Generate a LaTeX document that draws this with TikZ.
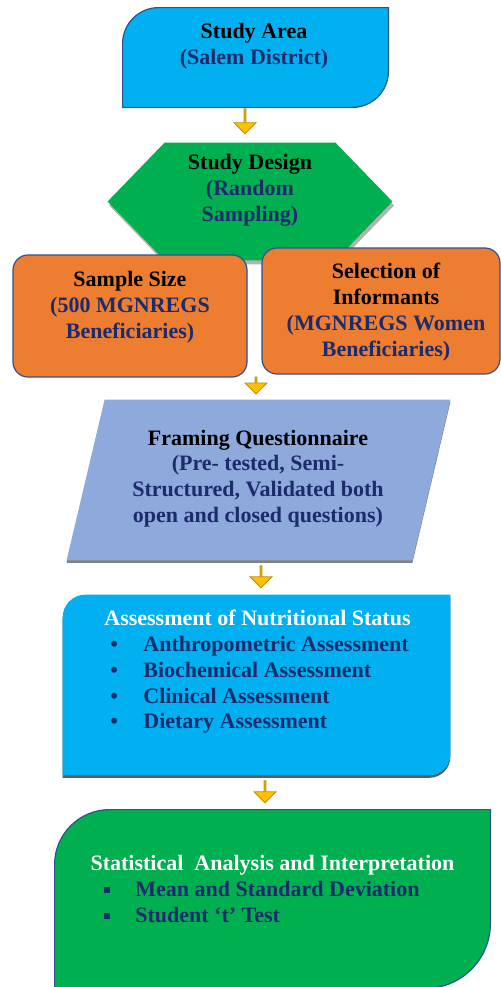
\documentclass[tikz,border=0pt]{standalone}
\usepackage{fontspec}
\setmainfont{Liberation Serif}
\usepackage{xcolor}
\usepackage{tikz}
\usetikzlibrary{
    shapes.arrows,
    positioning,
    shadows
}
\definecolor{skyblue}{HTML}{00B0F0}
\definecolor{leafgreen}{HTML}{00B050}
\definecolor{pumpkin}{HTML}{ED7D31}
\definecolor{lavender}{HTML}{8EA9DB}
\definecolor{amber}{HTML}{FFC000}
\definecolor{amberdark}{HTML}{BF9000}
\definecolor{navytext}{HTML}{1C2B6B}
\definecolor{navyline}{HTML}{2F528F}
\tikzstyle{box} = [
    rectangle,
    inner sep=0pt
]
\tikzstyle{txt} = [
    align=center,
    inner sep=0pt,
    font=\fontsize{11pt}{12.9pt}\selectfont\bfseries
]
\tikzstyle{flowarrow} = [
    single arrow,
    shape border rotate=270,
    minimum width=11pt,
    single arrow head extend=2.25pt,
    single arrow tip angle=90,
    inner sep=0pt,
    fill=amber,
    draw=amberdark,
    line width=0.4pt
]

\begin{document}
\begin{tikzpicture}[x=0.5pt, y=-0.5pt]
% Rahmen in Pixeln
\useasboundingbox (0,0) rectangle (500,987);

% Untersuchungsgebiet
\node[box, minimum width=132.5pt, minimum height=49.5pt] (area) at (255.5,57.5) {};
\draw[fill=skyblue, draw=navyline, line width=0.6pt]
    (area.south west)
    -- ([yshift=-18pt]area.north west) arc[start angle=180, end angle=90, radius=18pt]
    -- (area.north east)
    -- ([yshift=18pt]area.south east) arc[start angle=0, end angle=-90, radius=18pt]
    -- cycle;
\node[txt] (areatxt) at (254,46.5) {Study Area\\\textcolor{navytext}{(Salem District)}};

% Sechseck
\node[box, minimum width=142pt, minimum height=58.5pt] (design) at (250,201.5) {};
\fill[leafgreen, drop shadow={shadow xshift=0.8pt, shadow yshift=-2pt, fill=black!50, opacity=0.6}]
    ([xshift=28.5pt]design.north west) -- ([xshift=-28.5pt]design.north east)
    -- (design.east)
    -- ([xshift=-28.5pt]design.south east) -- ([xshift=28.5pt]design.south west)
    -- (design.west) -- cycle;
\node[txt] (designtxt) at (250,190) {Study Design\\\textcolor{navytext}{(Random}\\\textcolor{navytext}{Sampling)}};

% Stichprobe und Auswahl
\node[box, minimum width=117pt, minimum height=61pt, rounded corners=7.5pt, fill=pumpkin, draw=navyline, line width=0.6pt] (size) at (130,316) {};
\node[box, minimum width=119pt, minimum height=63pt, rounded corners=7.5pt, fill=pumpkin, draw=navyline, line width=0.6pt] (informants) at (381,311) {};
\node[txt] (sizetxt) at (130,307) {Sample Size\\\textcolor{navytext}{(500 MGNREGS}\\\textcolor{navytext}{Beneficiaries)}};
\node[txt] (informantstxt) at (386,312) {Selection of\\Informants\\\textcolor{navytext}{(MGNREGS Women}\\\textcolor{navytext}{Beneficiaries)}};

% Fragebogen
\node[box, minimum width=191.5pt, minimum height=80pt] (frame) at (258.5,480) {};
\fill[lavender, drop shadow={shadow xshift=0pt, shadow yshift=-1.2pt, fill=black!70, opacity=0.7}]
    ([xshift=19pt]frame.north west) -- (frame.north east)
    -- ([xshift=-19pt]frame.south east) -- (frame.south west) -- cycle;
\node[txt, text=navytext] (frametxt) at (258,478.5) {\textcolor{black}{Framing Questionnaire}\\(Pre- tested, Semi-\\Structured, Validated both\\open and closed questions)};

% Ernaehrungsstatus
\node[box, minimum width=193.5pt, minimum height=90pt] (assess) at (256.5,685) {};
\fill[skyblue, drop shadow={shadow xshift=0pt, shadow yshift=-1.2pt, fill=black!80, opacity=0.8}]
    (assess.south west)
    -- ([yshift=-11.5pt]assess.north west) arc[start angle=180, end angle=90, radius=11.5pt]
    -- (assess.north east)
    -- ([yshift=10.5pt]assess.south east) arc[start angle=0, end angle=-90, radius=10.5pt]
    -- cycle;
\node[txt, text=white] (assesshead) at (257.5,618) {Assessment of Nutritional Status};
\node[txt, align=left, anchor=west, text=navytext] (assesslist) at (110,685) {%
    \makebox[16.5pt][l]{\textbullet}Anthropometric Assessment\\
    \makebox[16.5pt][l]{\textbullet}Biochemical Assessment\\
    \makebox[16.5pt][l]{\textbullet}Clinical Assessment\\
    \makebox[16.5pt][l]{\textbullet}Dietary Assessment};

% Statistik
\node[box, minimum width=217.5pt, minimum height=89pt] (stats) at (272.5,899) {};
\draw[fill=leafgreen, draw=navyline, line width=0.6pt]
    (stats.south west)
    -- ([yshift=-27.5pt]stats.north west) arc[start angle=180, end angle=90, radius=27.5pt]
    -- (stats.north east)
    -- ([yshift=32.5pt]stats.south east) arc[start angle=0, end angle=-90, radius=32.5pt]
    -- cycle;
\node[txt, text=white] (statshead) at (272.5,865) {Statistical\ \ Analysis and Interpretation};
\node[txt, align=left, anchor=west, text=navytext] (statslist) at (104,902) {%
    \makebox[15.5pt][l]{\rule[1.6pt]{3pt}{3pt}}Mean and Standard Deviation\\
    \makebox[15.5pt][l]{\rule[1.6pt]{3pt}{3pt}}Student ‘t’ Test};

% Pfeile
\node[flowarrow, minimum height=12.5pt, below=0.5pt of area.south, xshift=-5.25pt] (arrow1) {};
\node[flowarrow, minimum height=8.5pt, above=2.5pt of frame.north, xshift=-1.25pt] (arrow2) {};
\node[flowarrow, minimum height=11pt, below=2.5pt of frame.south, xshift=1.25pt] (arrow3) {};
\node[flowarrow, minimum height=11pt, below=2.5pt of assess.south, xshift=4.25pt] (arrow4) {};
\end{tikzpicture}
\end{document}
